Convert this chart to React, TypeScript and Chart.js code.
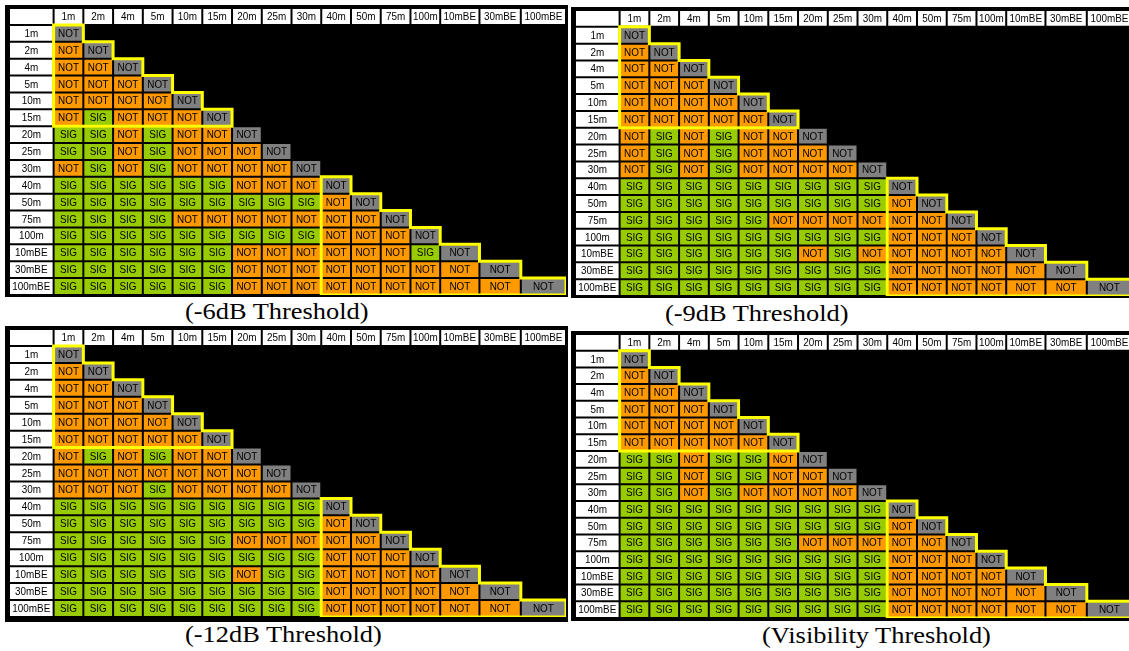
import React, { useEffect, useRef } from 'react';
import { Chart, registerables } from 'chart.js';

Chart.register(...registerables);

// ---------- data ----------
const ROWS = ['1m', '2m', '4m', '5m', '10m', '15m', '20m', '25m', '30m', '40m', '50m', '75m', '100m', '10mBE', '30mBE', '100mBE'];
const COLS = ['1m', '2m', '4m', '5m', '10m', '15m', '20m', '25m', '30m', '40m', '50m', '75m', '100m', '10mBE', '30mBE', '100mBE'];

// S = SIG, N = NOT ; row i lists columns 0..i-1 (diagonal is always NOT)
const M_6DB = ['', 'N', 'NN', 'NNN', 'NNNN', 'NSNNN', 'SSNSNN', 'SSNSNNN', 'NSNSNNNN', 'SSSSSSNNN', 'SSSSSSSSSN', 'SSSSNNNNNNN', 'SSSSSSSSSNNN', 'SSSSSSNNNNNNS', 'SSSSSSNNNNNNNN', 'SSSSSSNNNNNNNNN'];
const M_9DB = ['', 'N', 'NN', 'NNN', 'NNNN', 'NNNNN', 'NSNSNN', 'NSNSNNN', 'NSNSNNNN', 'SSSSSSSSS', 'SSSSSSSSSN', 'SSSSSNNNNNN', 'SSSSSSSSSNNN', 'SSSSSSNSNNNNN', 'SSSSSSSSSNNNNN', 'SSSSSSSSSNNNNNN'];
const M_12DB = ['', 'N', 'NN', 'NNN', 'NNNN', 'NNNNN', 'NSNSNN', 'NNNNNNN', 'NNNSNNNN', 'SSSSSSSSS', 'SSSSSSSSSN', 'SSSSSSNNNNN', 'SSSSSSSSSNNN', 'SSSSSSNSSNNNN', 'SSSSSSSSSNNNNN', 'SSSSSSSSSNNNNNN'];
const M_VIS = ['', 'N', 'NN', 'NNN', 'NNNN', 'NNNNN', 'SSNSSN', 'SSNSSNN', 'SSNSNNNN', 'SSSSSSSSS', 'SSSSSSSSSN', 'SSSSSSNNNNN', 'SSSSSSSSSNNN', 'SSSSSSSSSNNNN', 'SSSSSSSSSNNNNN', 'SSSSSSSSSNNNNNN'];

const CAPTIONS = ['(-6dB Threshold)', '(-9dB Threshold)', '(-12dB Threshold)', '(Visibility Threshold)'];
const GROUPS: number[][] = [[0, 5], [9, 15]];

// ---------- style / layout ----------
const ORANGE = '#FF9900';
const GREEN = '#99CC00';
const GRAY = '#808080';
const YELLOW = '#FFFF00';
const LABEL_W = 1.5;
const COL_W = [1, 1, 1, 1, 1, 1, 1, 1, 1, 1, 1, 1, 1, 1.32, 1.39, 1.52];

const EDGES: number[] = (() => {
  const e = [0, LABEL_W];
  COL_W.forEach((w) => e.push(e[e.length - 1] + w));
  return e;
})();
const TOTAL = EDGES[EDGES.length - 1];

const cellTextPlugin = {
  id: 'cellText',
  afterDatasetsDraw(chart: any) {
    const ctx = chart.ctx;
    ctx.save();
    ctx.fillStyle = '#000';
    ctx.font = '11px "Liberation Sans", Arial, sans-serif';
    ctx.textAlign = 'center';
    ctx.textBaseline = 'middle';
    chart.data.datasets.forEach((ds: any, di: number) => {
      const meta = chart.getDatasetMeta(di);
      meta.data.forEach((el: any, i: number) => {
        const t = ds.texts[i];
        if (!t) return;
        const p = el.getProps(['x', 'base', 'y'], true);
        ctx.save();
        ctx.translate((p.x + p.base) / 2, p.y + 0.5);
        ctx.scale(0.9, 1);
        ctx.fillText(t, 0, 0);
        ctx.restore();
      });
    });
    ctx.restore();
  },
};

const outlinePlugin = {
  id: 'groupOutline',
  afterDatasetsDraw(chart: any) {
    const ctx = chart.ctx;
    const xs = chart.scales.x;
    const ys = chart.scales.y;
    const half = (ys.getPixelForValue(1) - ys.getPixelForValue(0)) / 2;
    const X = (j: number) => xs.getPixelForValue(EDGES[j + 1]);
    const T = (i: number) => ys.getPixelForValue(i + 1) - half;
    const B = (i: number) => ys.getPixelForValue(i + 1) + half;
    ctx.save();
    ctx.strokeStyle = YELLOW;
    ctx.lineWidth = 3;
    ctx.lineJoin = 'miter';
    GROUPS.forEach(([a, b]) => {
      ctx.beginPath();
      ctx.moveTo(X(a), T(a));
      for (let k = a; k <= b; k++) {
        ctx.lineTo(X(k + 1), T(k));
        ctx.lineTo(X(k + 1), B(k));
      }
      ctx.lineTo(X(a), B(b));
      ctx.closePath();
      ctx.stroke();
    });
    ctx.restore();
  },
};

function buildDatasets(matrix: string[]) {
  const n = ROWS.length;
  const datasets: any[] = [];
  // row-label column
  datasets.push({
    data: Array.from({ length: n + 1 }, () => [EDGES[0], EDGES[1]]),
    backgroundColor: Array.from({ length: n + 1 }, () => '#FFFFFF'),
    texts: ['', ...ROWS],
  });
  COLS.forEach((c, j) => {
    const data: any[] = [[EDGES[j + 1], EDGES[j + 2]]];
    const colors: string[] = ['#FFFFFF'];
    const texts: string[] = [c];
    ROWS.forEach((_, i) => {
      if (j > i) {
        data.push(null);
        colors.push('#000');
        texts.push('');
      } else if (j === i) {
        data.push([EDGES[j + 1], EDGES[j + 2]]);
        colors.push(GRAY);
        texts.push('NOT');
      } else {
        const s = matrix[i][j] === 'S';
        data.push([EDGES[j + 1], EDGES[j + 2]]);
        colors.push(s ? GREEN : ORANGE);
        texts.push(s ? 'SIG' : 'NOT');
      }
    });
    datasets.push({ data, backgroundColor: colors, texts });
  });
  return datasets;
}

type PanelProps = {
  matrix: string[];
  boxLeft: number; boxTop: number; boxW: number; boxH: number;
  left: number; top: number; w: number; h: number;
};

function Panel(p: PanelProps) {
  const ref = useRef<HTMLCanvasElement | null>(null);
  useEffect(() => {
    if (!ref.current) return;
    const chart = new Chart(ref.current, {
      type: 'bar',
      data: { labels: ['', ...ROWS], datasets: buildDatasets(p.matrix) },
      options: {
        indexAxis: 'y',
        animation: false,
        responsive: false,
        devicePixelRatio: 1,
        layout: { padding: 0 },
        datasets: {
          bar: {
            grouped: false,
            barPercentage: 1,
            categoryPercentage: 1,
            borderWidth: 1,
            borderColor: '#000',
            borderSkipped: false,
            inflateAmount: 0,
          } as any,
        },
        plugins: { legend: { display: false }, tooltip: { enabled: false }, title: { display: false } },
        scales: {
          x: { type: 'linear', min: 0, max: TOTAL, display: false },
          y: { type: 'category', display: false, offset: true },
        },
      } as any,
      plugins: [cellTextPlugin, outlinePlugin],
    });
    return () => chart.destroy();
  }, []);
  return (
    <>
      <div style={{ position: 'absolute', left: p.boxLeft, top: p.boxTop, width: p.boxW, height: p.boxH, background: '#000' }} />
      <canvas ref={ref} width={p.w} height={p.h} style={{ position: 'absolute', left: p.left, top: p.top, width: p.w, height: p.h }} />
    </>
  );
}

const captionStyle = (left: number, top: number): React.CSSProperties => ({
  position: 'absolute',
  left,
  top,
  fontFamily: '"Liberation Serif", "Times New Roman", serif',
  fontSize: 24,
  lineHeight: '24px',
  whiteSpace: 'nowrap',
  color: '#000',
  transform: 'scaleX(1.1)',
  transformOrigin: 'left top',
});

export default function App() {
  return (
    <div style={{ position: 'fixed', left: 0, top: 0, width: 1129, height: 651, overflow: 'hidden', background: '#fff' }}>
      <Panel matrix={M_6DB} boxLeft={5} boxTop={5} boxW={563} boxH={292} left={9} top={8} w={557} h={287} />
      <Panel matrix={M_9DB} boxLeft={571} boxTop={7} boxW={563} boxH={291} left={575} top={10} w={557} h={286} />
      <Panel matrix={M_12DB} boxLeft={5} boxTop={326} boxW={563} boxH={296} left={9} top={329} w={557} h={288} />
      <Panel matrix={M_VIS} boxLeft={571} boxTop={331} boxW={563} boxH={290} left={575} top={334} w={557} h={284} />
      <div style={captionStyle(185, 299)}>{CAPTIONS[0]}</div>
      <div style={captionStyle(665, 301)}>{CAPTIONS[1]}</div>
      <div style={captionStyle(185, 622)}>{CAPTIONS[2]}</div>
      <div style={captionStyle(762, 623)}>{CAPTIONS[3]}</div>
    </div>
  );
}
